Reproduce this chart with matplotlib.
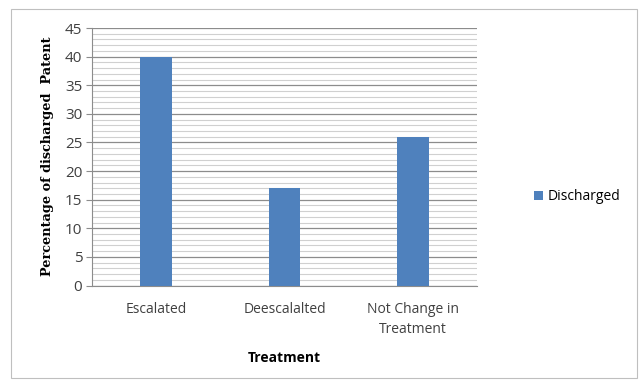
import matplotlib.pyplot as plt
from matplotlib.patches import Rectangle
import numpy as np

# data
categories = ["Escalated", "Deescalalted", "Not Change in\nTreatment"]
discharged = [40, 17, 26]

fig = plt.figure(figsize=(6.44, 3.85), dpi=100)
fig.patches.append(Rectangle((11 / 644, 1 - 378 / 385), 626 / 644, 369 / 385,
                             transform=fig.transFigure, fill=False,
                             edgecolor="#BFBFBF", linewidth=0.8))

ax = fig.add_axes([92 / 644, 1 - 285.5 / 385, 385 / 644, 257.5 / 385])
x = np.arange(len(categories))
ax.bar(x, discharged, width=0.245, color="#4F81BD", label="Discharged", zorder=3)

ax.set_xlim(-0.5, 2.5)
ax.set_ylim(0, 45)
ax.set_yticks(np.arange(0, 46, 5))
ax.set_yticks(np.arange(0, 46, 1), minor=True)
ax.grid(True, which="minor", axis="y", color="#D0D0D0", linewidth=0.8, zorder=0)
ax.grid(True, which="major", axis="y", color="#8C8C8C", linewidth=0.9, zorder=1)

for side in ["top", "right"]:
    ax.spines[side].set_visible(False)
ax.spines["left"].set_color("#8C8C8C")
ax.spines["bottom"].set_color("#8C8C8C")
ax.tick_params(axis="y", which="major", length=4, color="#8C8C8C",
               labelsize=11, labelcolor="#404040", pad=3)
ax.tick_params(axis="y", which="minor", length=0)
ax.tick_params(axis="x", length=0, pad=12)
ax.set_xticks(x)
ax.set_xticklabels(categories, fontsize=10, color="#404040", family="Open Sans",
                   linespacing=1.45)
for t in ax.get_yticklabels():
    t.set_family("Open Sans")

ax.set_xlabel("Treatment", fontsize=10, fontweight="bold", family="Open Sans",
              labelpad=10)
ax.set_ylabel("Percentage of discharged  Patent", fontsize=9.3, fontweight="bold",
              family="DejaVu Serif", labelpad=8)

ax.legend(loc="center left", bbox_to_anchor=(1.115, 0.345), frameon=False,
          handlelength=0.65, handleheight=0.65, handletextpad=0.35,
          prop={"family": "Open Sans", "size": 10})

plt.savefig("out.png", dpi=100)
